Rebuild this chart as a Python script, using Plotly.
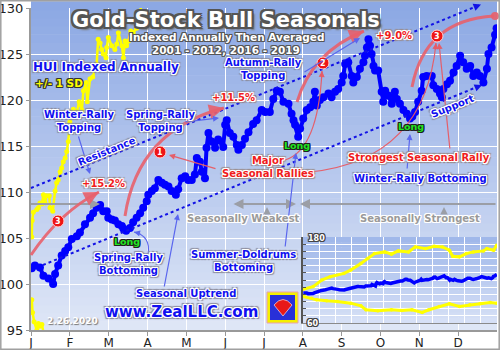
import math
import plotly.graph_objects as go

# ---------------- data ----------------
month_labels = ["J", "F", "M", "A", "M", "J", "J", "A", "S", "O", "N", "D"]
month_pos = list(range(12))
y_ticks = [95, 100, 105, 110, 115, 120, 125, 130]

hui_month = [0.02, 0.10, 0.23, 0.32, 0.45, 0.57, 0.62, 0.70, 0.79, 0.88, 0.96, 1.05, 1.18, 1.26, 1.39,
             1.52, 1.60, 1.69, 1.78, 1.86, 1.95, 1.99, 2.08, 2.16, 2.25, 2.34, 2.38, 2.45, 2.55, 2.63,
             2.72, 2.81, 2.89, 2.98, 3.02, 3.11, 3.19, 3.28, 3.37, 3.45, 3.54, 3.62, 3.73, 3.79, 3.88,
             3.97, 4.05, 4.14, 4.22, 4.27, 4.35, 4.40, 4.48, 4.52, 4.57, 4.65, 4.74, 4.82, 4.95, 5.00,
             5.04, 5.12, 5.21, 5.30, 5.34, 5.43, 5.51, 5.60, 5.72, 5.81, 5.94, 6.03, 6.15, 6.24, 6.33,
             6.41, 6.50, 6.63, 6.71, 6.76, 6.80, 6.88, 6.93, 7.01, 7.10, 7.19, 7.27, 7.31, 7.36, 7.44,
             7.53, 7.66, 7.74, 7.83, 7.91, 8.00, 8.04, 8.09, 8.17, 8.26, 8.30, 8.39, 8.47, 8.56, 8.60,
             8.65, 8.69, 8.73, 8.77, 8.82, 8.86, 8.94, 9.03, 9.07, 9.12, 9.20, 9.29, 9.37, 9.42, 9.50,
             9.59, 9.68, 9.76, 9.82, 9.89, 9.97, 10.06, 10.10, 10.19, 10.32, 10.36, 10.45, 10.53, 10.58,
             10.62, 10.71, 10.79, 10.88, 10.96, 11.05, 11.13, 11.22, 11.31, 11.39, 11.48, 11.56, 11.65,
             11.74, 11.78, 11.86, 11.95, 11.99]
hui_index = [101.7, 102.0, 101.8, 100.9, 100.6, 100.0, 101.1, 102.0, 103.1, 103.6, 104.0, 104.9, 105.2, 105.6, 106.5,
             107.2, 107.7, 108.3, 108.6, 107.9, 107.9, 107.2, 107.0, 106.9, 106.5, 106.3, 106.0, 105.8, 106.1, 106.7,
             107.2, 107.7, 108.3, 109.0, 109.7, 110.1, 110.4, 111.3, 111.0, 110.8, 110.6, 110.1, 109.7, 110.3, 111.5,
             111.7, 111.3, 111.3, 111.9, 113.7, 113.3, 112.2, 111.5, 114.8, 116.4, 115.5, 114.8, 115.7, 114.9, 117.3,
             117.8, 116.4, 116.0, 115.1, 114.6, 115.1, 115.8, 116.5, 117.4, 117.8, 118.9, 118.7, 118.7, 120.1, 121.0,
             120.9, 119.8, 119.6, 118.5, 117.8, 117.3, 116.0, 116.9, 118.0, 118.9, 119.2, 119.8, 120.9, 119.4, 120.0,
             120.3, 120.7, 120.3, 120.9, 121.2, 121.9, 122.6, 123.9, 124.1, 122.6, 121.9, 122.5, 123.4, 124.1, 124.8,
             125.7, 126.6, 125.9, 125.0, 123.7, 123.2, 123.2, 120.9, 119.8, 121.0, 120.5, 119.6, 120.9, 120.1, 119.6,
             118.9, 118.5, 118.0, 118.2, 118.7, 119.8, 121.0, 122.5, 122.6, 122.6, 121.6, 121.2, 120.7, 120.3,
             121.2, 121.7, 122.1, 123.0, 123.7, 124.8, 124.1, 123.4, 123.7, 122.6, 123.0, 122.6, 121.9,
             123.4, 125.0, 125.7, 127.1, 127.8]

sd_up_month = [0.02, 0.03, 0.06, 0.15, 0.19, 0.23, 0.28, 0.32, 0.36, 0.40, 0.47, 0.49, 0.56, 0.62, 0.66,
               0.70, 0.75, 0.79, 0.83, 0.88, 0.92, 0.96, 1.00, 1.09, 1.18, 1.24, 1.31, 1.35, 1.42, 1.45,
               1.52, 1.59, 1.69, 1.73, 1.78, 1.82, 1.86, 1.93, 1.95, 1.99, 2.08, 2.16, 2.21, 2.25, 2.34,
               2.38, 2.42, 2.46, 2.51, 2.57, 2.63, 2.72, 2.81, 2.85, 2.90]
sd_up_index = [105.1, 106.9, 107.8, 108.1, 108.3, 108.8, 108.7, 109.7, 108.8, 109.6, 109.6, 108.3, 107.9, 110.1, 111.0,
               111.3, 112.2, 112.6, 113.3, 113.7, 114.4, 115.5, 117.6, 119.0, 118.7, 119.8, 118.9, 121.0, 121.9, 119.8,
               122.3, 122.5, 123.9, 126.6, 126.2, 125.5, 125.0, 124.6, 125.7, 126.8, 125.9, 125.5, 126.1, 127.3, 125.9,
               124.6, 126.4, 125.9, 126.4, 127.5, 127.3, 127.8, 129.5, 130.6, 131.5]

sd_dn_month = [0.02, 0.04, 0.08, 0.15, 0.19, 0.23, 0.28, 0.32, 0.36]
sd_dn_index = [98.3, 96.9, 95.9, 95.0, 95.7, 95.4, 95.6, 94.6, 94.0]

inset_up_month = [0.0, 0.63, 1.16, 1.68, 2.53, 2.95, 3.58, 4.00, 4.42, 5.05, 5.47, 5.89, 6.53, 6.95, 7.58,
                  8.11, 8.63, 9.05, 9.26, 9.68, 10.10, 10.53, 11.16, 11.37, 11.79, 11.98]
inset_up = [107.1, 110.8, 120.0, 124.6, 129.2, 133.8, 143.1, 150.0, 156.9, 159.2, 156.0, 160.6, 159.2, 166.2, 163.8,
            167.1, 166.2, 161.5, 153.2, 152.3, 156.9, 159.2, 160.6, 163.8, 161.5, 168.5]
inset_dn_month = [0.0, 0.53, 0.84, 1.47, 2.11, 2.95, 3.58, 3.89, 4.63, 5.47, 6.11, 6.74, 7.37, 7.79, 8.42,
                  9.05, 9.68, 10.32, 10.95, 11.58, 11.98]
inset_dn = [96.9, 94.6, 92.3, 90.9, 90.0, 87.7, 84.0, 78.5, 77.1, 78.5, 77.5, 78.5, 74.8, 78.5, 83.1,
            86.8, 83.1, 85.4, 86.8, 88.6, 87.7]

# ---------------- geometry helpers (pixel -> paper) ----------------
W, H = 500, 350
ML, MR, MT, MB = 31, 3, 8, 20
PW = W - ML - MR
PH = H - MT - MB


def px(x):
    return (x - ML) / PW


def py(y):
    return (H - MB - y) / PH


FONT = "DejaVu Sans"


def outline(c, w=1, glow=None):
    offs = [(-w, -w), (w, -w), (-w, w), (w, w), (0, -w), (0, w), (-w, 0), (w, 0)]
    s = [f"{dx}px {dy}px 0 {c}" for dx, dy in offs]
    if glow:
        s += [f"{dx}px {dy}px 1px {glow}" for dx, dy in [(-2, -2), (2, -2), (-2, 2), (2, 2)]]
    return ", ".join(s)


BLUE_T = "#1010f0"
RED_T = "#f01c1c"
BLUE_SH = outline("#ffffff", 1, "#8c8c9c")
RED_SH = outline("#ffffff", 1, "#9a8c8c")

shapes = []
annotations = []

# main background gradient (covers the whole plotting area up to the top edge)
top = (140, 168, 228)
bot = (222, 230, 246)
NB = 40
y_top = py(2)
for i in range(NB):
    t = i / (NB - 1)
    c = tuple(round(bot[k] + (top[k] - bot[k]) * t) for k in range(3))
    shapes.append(dict(type="rect", xref="paper", yref="paper", x0=0, x1=1,
                       y0=y_top * i / NB, y1=y_top * (i + 1) / NB + 0.002, layer="below",
                       line=dict(width=0), fillcolor=f"rgb{c}"))

# inset background gradient
itop = (160, 184, 234)
ibot = (214, 224, 246)
NI = 16
for i in range(NI):
    t = i / (NI - 1)
    c = tuple(round(ibot[k] + (itop[k] - ibot[k]) * t) for k in range(3))
    shapes.append(dict(type="rect", xref="x2", yref="y2", x0=0, x1=12,
                       y0=60 + 120 * i / NI, y1=60 + 120 * (i + 1) / NI + 0.3, layer="below",
                       line=dict(width=0), fillcolor=f"rgb{c}"))


def line(x0, y0, x1, y1, color, width=1, dash="solid", layer="above"):
    shapes.append(dict(type="line", xref="paper", yref="paper", x0=px(x0), y0=py(y0), x1=px(x1), y1=py(y1),
                       line=dict(color=color, width=width, dash=dash), layer=layer))


def arrowhead(hx, hy, dx, dy, color, width, size=1.0, head=2):
    n = math.hypot(dx, dy)
    tx, ty = hx - dx / n * 8, hy - dy / n * 8
    annotations.append(dict(xref="paper", yref="paper", x=px(hx), y=py(hy), ax=tx - hx, ay=ty - hy,
                            axref="pixel", ayref="pixel", text="", showarrow=True, arrowhead=head,
                            arrowsize=size, arrowwidth=width, arrowcolor=color, standoff=0))


def arrow(tx, ty, hx, hy, color, width=1, head=2, size=1.0, side="end"):
    annotations.append(dict(xref="paper", yref="paper", x=px(hx), y=py(hy), ax=tx - hx, ay=ty - hy,
                            axref="pixel", ayref="pixel", text="", showarrow=True, arrowhead=head,
                            startarrowhead=head, arrowside=side, startarrowsize=size,
                            arrowsize=size, arrowwidth=width, arrowcolor=color, standoff=0, startstandoff=0))


def curve(x0, y0, cx, cy, x1, y1, color, width, head=True, size=1.0):
    shapes.append(dict(type="path", xref="paper", yref="paper",
                       path=f"M {px(x0)},{py(y0)} Q {px(cx)},{py(cy)} {px(x1)},{py(y1)}",
                       line=dict(color=color, width=width), layer="above"))
    if head:
        arrowhead(x1, y1, x1 - cx, y1 - cy, color, width, size)


def text(x, y, s, size=10, color=BLUE_T, shadow=BLUE_SH, angle=0, weight="bold"):
    annotations.append(dict(xref="paper", yref="paper", x=px(x), y=py(y), text=s, showarrow=False,
                            xanchor="center", yanchor="middle", textangle=angle,
                            font=dict(family=FONT, size=size, color=color, weight=weight, shadow=shadow)))


def badge(x, y, n):
    r = 6
    shapes.append(dict(type="circle", xref="paper", yref="paper", x0=px(x - r), x1=px(x + r),
                       y0=py(y + r), y1=py(y - r), fillcolor="#ee1515", line=dict(color="#ffd0d0", width=1),
                       layer="above"))
    annotations.append(dict(xref="paper", yref="paper", x=px(x), y=py(y), text=str(n), showarrow=False,
                            xanchor="center", yanchor="middle",
                            font=dict(family=FONT, size=8, color="white", weight="bold")))


# dotted trend channel
DOT = "#1212e6"
line(31, 188, 476, 6.5, DOT, 2, "dot")
arrowhead(481, 4.5, 449, -184, DOT, 1.5, 1.0)
line(43, 265, 477, 87, DOT, 2, "dot")
arrowhead(482, 85, 438, -180, DOT, 1.5, 1.0)

# gray seasonal arrows
GR = "#9b9ea6"
line(31, 204, 96, 204, GR, 2)
arrowhead(100, 204, 1, 0, GR, 2, 1.0)
arrow(232, 204, 296, 204, GR, 2, head=2, size=1.0, side="end+start")
arrow(497, 204, 300, 204, GR, 2, head=2, size=1.0)
arrow(267, 213, 267, 207, GR, 1.5, head=2, size=1.0)
arrow(444, 213, 444, 207, GR, 1.5, head=2, size=1.0)

# red rally arcs
RC = "rgba(232,96,108,0.9)"
curve(31, 255, 60, 212, 99, 192, RC, 3)
curve(125, 216, 138, 130, 224, 108, RC, 3)
curve(297, 102, 312, 52, 364, 31, RC, 3)
curve(412, 87, 425, 20, 494, 16, RC, 3, head=False)
shapes.append(dict(type="circle", xref="paper", yref="paper", x0=px(491), x1=px(499), y0=py(20), y1=py(12),
                   fillcolor=RC, line=dict(width=0), layer="above"))

# thin red callouts
RT = "rgba(232,90,100,0.95)"
curve(285, 160, 318, 150, 322, 71, RT, 1.2)
curve(310, 172, 425, 160, 436, 43, RT, 1.2)
arrow(450, 150, 439, 43, RT, 1.2)
arrow(217, 169, 169, 155, RT, 1.2)

# blue callouts
BC = "#5a66ee"
arrow(78, 135, 90, 174, BC, 1.2)
arrow(184, 122, 219, 118, BC, 1.2)
arrow(303, 73, 360, 38, BC, 1.2)
curve(148, 254, 151, 236, 134, 232, BC, 1.2)
arrow(164, 288, 178, 214, BC, 1.2)
arrow(285, 248, 296, 153, BC, 1.2)
arrow(407, 170, 410, 134, BC, 1.2)

# badges
badge(58, 221, 3)
badge(160, 152, 1)
badge(323, 63, 2)
badge(437, 36, 3)

# logo
shapes.append(dict(type="rect", xref="paper", yref="paper", x0=px(267), x1=px(298), y0=py(323), y1=py(292),
                   fillcolor="#f4f000", line=dict(color="#e8a0b0", width=1), layer="above"))
shapes.append(dict(type="rect", xref="paper", yref="paper", x0=px(270), x1=px(295), y0=py(320), y1=py(295),
                   fillcolor="#2830d8", line=dict(width=0), layer="above"))
shapes.append(dict(type="path", xref="paper", yref="paper",
                   path=f"M {px(283)},{py(316)} L {px(274)},{py(305)} Q {px(283)},{py(294)} {px(292)},{py(305)} Z",
                   fillcolor="#e81818", line=dict(color="white", width=0.6), layer="above"))

# inset corner labels
ISH = outline("#444444", 1)
text(316, 238, "180", 8, "white", ISH)
text(313, 323, "60", 8, "white", ISH)

# texts
TSH = outline("#555555", 2) + ", 3px 3px 2px #777"
text(226, 20, "Gold-Stock Bull Seasonals", 21, "white", TSH)
SSH = outline("#555555", 1)
text(226, 37, "Indexed Annually Then Averaged", 10.5, "white", SSH)
text(226, 50, "2001 - 2012, 2016 - 2019", 10.5, "white", SSH)
text(106, 67, "HUI Indexed Annually", 12)
text(59, 83, "+/- 1 SD", 10.5, "#ffff00", outline("#333333", 1))
text(79, 121, "Winter-Rally<br>Topping", 10)
text(160, 121, "Spring-Rally<br>Topping", 10)
text(263, 69, "Autumn-Rally<br>Topping", 10)
text(106, 151, "Resistance", 10, angle=-22)
text(452, 107, "Support", 10, angle=-22)
text(103, 184, "+15.2%", 10, RED_T, RED_SH)
text(233, 98, "+11.5%", 10, RED_T, RED_SH)
text(394, 35, "+9.0%", 10, RED_T, RED_SH)
text(268, 167, "Major<br>Seasonal Rallies", 10, RED_T, RED_SH)
text(419, 157, "Strongest Seasonal Rally", 10, RED_T, RED_SH)
text(420, 178, "Winter-Rally Bottoming", 10)
GSH = outline("#ffffff", 1)
text(243, 218, "Seasonally Weakest", 10, "#9a9a9a", GSH)
text(420, 218, "Seasonally Strongest", 10, "#9a9a9a", GSH)
text(128, 264, "Spring-Rally<br>Bottoming", 10)
text(243, 261, "Summer-Doldrums<br>Bottoming", 10)
text(186, 293, "Seasonal Uptrend", 10)
text(181, 312, "www.ZealLLC.com", 15)
text(72, 321, "2.26.2020", 9, "white", "1px 1px 1px #777")
LSH = outline("#202020", 1)
for (lx, ly) in [(127, 242), (297, 145), (411, 126)]:
    text(lx, ly, "Long", 9.5, "#22e622", LSH)

# image border
shapes.append(dict(type="rect", xref="paper", yref="paper", x0=px(0.8), x1=px(499.2), y0=py(349.2), y1=py(0.8),
                   line=dict(color="#a0a0a0", width=1.5), layer="above"))

# ---------------- traces ----------------
fig = go.Figure()
YEL = "#ffff00"
fig.add_trace(go.Scatter(x=sd_up_month, y=sd_up_index, mode="lines+markers",
                         line=dict(color=YEL, width=2.5), marker=dict(size=5, color=YEL), xaxis="x", yaxis="y"))
fig.add_trace(go.Scatter(x=sd_dn_month, y=sd_dn_index, mode="lines+markers",
                         line=dict(color=YEL, width=2.5), marker=dict(size=5, color=YEL), xaxis="x", yaxis="y"))
fig.add_trace(go.Scatter(x=hui_month, y=hui_index, mode="lines+markers",
                         line=dict(color="#0000ff", width=4), marker=dict(size=8, color="#0000ff"),
                         xaxis="x", yaxis="y"))
fig.add_trace(go.Scatter(x=inset_up_month, y=inset_up, mode="lines+markers",
                         line=dict(color=YEL, width=3), marker=dict(size=3.5, color=YEL), xaxis="x2", yaxis="y2"))
fig.add_trace(go.Scatter(x=inset_dn_month, y=inset_dn, mode="lines+markers",
                         line=dict(color=YEL, width=3), marker=dict(size=3.5, color=YEL), xaxis="x2", yaxis="y2"))
fig.add_trace(go.Scatter(x=hui_month, y=hui_index, mode="lines",
                         line=dict(color="#0000ff", width=3.5), xaxis="x2", yaxis="y2"))

fig.update_layout(
    width=W, height=H, template="none", showlegend=False,
    margin=dict(l=ML, r=MR, t=MT, b=MB, pad=0, autoexpand=False),
    paper_bgcolor="white", plot_bgcolor="rgba(0,0,0,0)",
    xaxis=dict(domain=[0, 1], range=[0, 12], tickvals=month_pos, ticktext=month_labels,
               showgrid=True, gridcolor="white", gridwidth=1, zeroline=False,
               showline=True, linecolor="#999999", linewidth=2, ticks="outside", ticklen=4,
               ticklabelstandoff=-3, automargin=False,
               tickcolor="#999999", tickfont=dict(family=FONT, size=12, color="#222"), anchor="y"),
    yaxis=dict(domain=[0, 1], range=[95, 130], tickvals=y_ticks,
               showgrid=True, gridcolor="white", gridwidth=1, zeroline=False, automargin=False,
               showline=True, linecolor="#999999", linewidth=2, ticks="outside", ticklen=3,
               tickcolor="#999999", tickfont=dict(family=FONT, size=13, color="#222"), anchor="x"),
    xaxis2=dict(domain=[px(303), 1], range=[0, 12], dtick=1, tick0=0, showticklabels=False,
                showgrid=True, gridcolor="white", gridwidth=1, zeroline=False,
                showline=True, linecolor="#8a8a8a", linewidth=1, ticks="", anchor="y2"),
    yaxis2=dict(domain=[py(323), py(237)], range=[60, 180], dtick=10, tick0=60, showticklabels=False,
                showgrid=True, gridcolor="white", gridwidth=1, zeroline=False,
                showline=True, linecolor="#555555", linewidth=1.5, ticks="inside", ticklen=3,
                tickcolor="#555555", anchor="x2"),
    shapes=shapes, annotations=annotations,
)

fig.write_html("out.html")
